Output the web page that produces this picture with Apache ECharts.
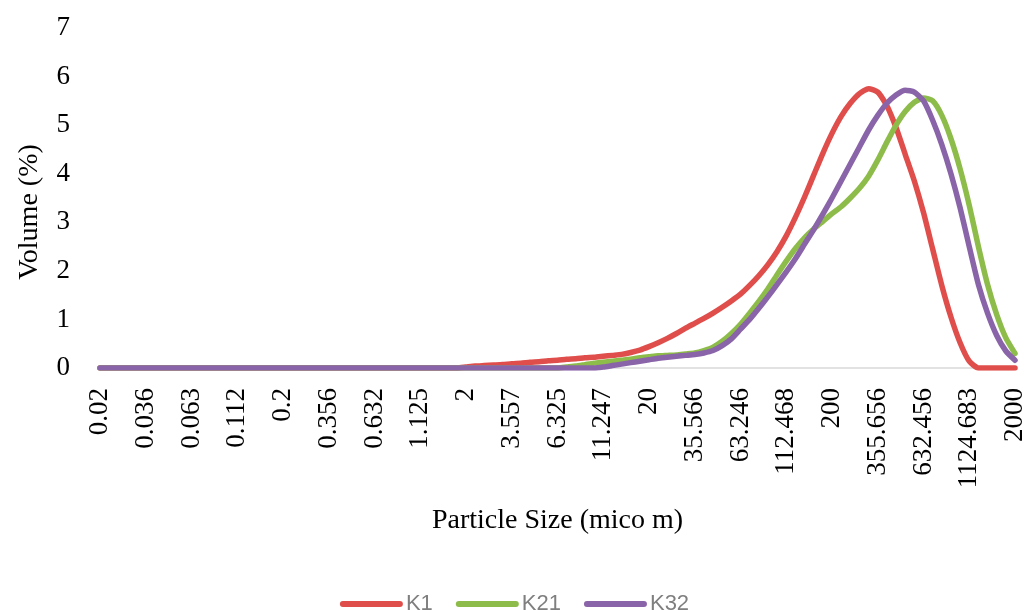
<!DOCTYPE html>
<html>
<head>
<meta charset="utf-8">
<script src="https://cdn.jsdelivr.net/npm/echarts@6/dist/echarts.min.js"></script>
<style>
html,body{margin:0;padding:0;background:#fff;}
#chart{width:1029px;height:610px;}
</style>
</head>
<body>
<div id="chart"></div>
<script>
const sizes = [
  0.02, 0.022, 0.025, 0.028, 0.032, 0.036, 0.04, 0.045, 0.05, 0.056,
  0.063, 0.071, 0.08, 0.089, 0.1, 0.112, 0.126, 0.142, 0.159, 0.178,
  0.2, 0.224, 0.252, 0.283, 0.317, 0.356, 0.399, 0.448, 0.502, 0.564,
  0.632, 0.71, 0.796, 0.893, 1.002, 1.125, 1.262, 1.416, 1.589, 1.783,
  2, 2.244, 2.518, 2.825, 3.17, 3.557, 3.991, 4.477, 5.024, 5.637,
  6.325, 7.096, 7.962, 8.934, 10.024, 11.247, 12.619, 14.159, 15.887, 17.825,
  20, 22.44, 25.179, 28.251, 31.698, 35.566, 39.905, 44.774, 50.238, 56.368,
  63.246, 70.963, 79.621, 89.337, 100.237, 112.468, 126.191, 141.589, 158.866, 178.25,
  200, 224.404, 251.785, 282.508, 316.979, 355.656, 399.052, 447.744, 502.377, 563.677,
  632.456, 709.627, 796.214, 893.367, 1002.374, 1124.683, 1261.915, 1415.892, 1588.656, 1782.502,
  2000
];

const K1 = [
  0,0,0,0,0,0,0,0,0,0, 0,0,0,0,0,0,0,0,0,0,
  0,0,0,0,0,0,0,0,0,0, 0,0,0,0,0,0,0,0,0,0,
  0.02, 0.04, 0.05, 0.06, 0.07, 0.09, 0.1, 0.12, 0.13, 0.15,
  0.16, 0.18, 0.19, 0.21, 0.22, 0.24, 0.26, 0.28, 0.32, 0.37,
  0.44, 0.52, 0.61, 0.71, 0.82, 0.92, 1.02, 1.13, 1.25, 1.38,
  1.52, 1.7, 1.9, 2.13, 2.4, 2.72, 3.1, 3.52, 3.97, 4.42,
  4.83, 5.18, 5.45, 5.65, 5.75, 5.68, 5.4, 4.95, 4.4, 3.85,
  3.2, 2.45, 1.7, 1.05, 0.52, 0.14, 0, 0, 0, 0,
  0
];

const K21 = [
  0,0,0,0,0,0,0,0,0,0, 0,0,0,0,0,0,0,0,0,0,
  0,0,0,0,0,0,0,0,0,0, 0,0,0,0,0,0,0,0,0,0,
  0,0,0,0,0,0,0,0,0,0, 0,
  0.02, 0.04, 0.07, 0.1, 0.12, 0.14, 0.16, 0.18, 0.21,
  0.23, 0.25, 0.26, 0.27, 0.29, 0.31, 0.36, 0.43, 0.55, 0.71,
  0.9, 1.13, 1.37, 1.63, 1.92, 2.2, 2.46, 2.68, 2.86, 3.02,
  3.18, 3.32, 3.5, 3.7, 3.95, 4.28, 4.65, 5.0, 5.28, 5.47,
  5.56, 5.5, 5.2, 4.72, 4.1, 3.35, 2.5, 1.72, 1.1, 0.62,
  0.3
];

const K32 = [
  0,0,0,0,0,0,0,0,0,0, 0,0,0,0,0,0,0,0,0,0,
  0,0,0,0,0,0,0,0,0,0, 0,0,0,0,0,0,0,0,0,0,
  0,0,0,0,0,0,0,0,0,0, 0,0,0,0,0,
  0.02, 0.05, 0.08, 0.11, 0.14,
  0.17, 0.2, 0.22, 0.24, 0.26, 0.28, 0.31, 0.36, 0.46, 0.6,
  0.8, 1.0, 1.23, 1.47, 1.72, 1.98, 2.25, 2.55, 2.85, 3.17,
  3.5, 3.85, 4.2, 4.55, 4.9, 5.2, 5.45, 5.62, 5.72, 5.68,
  5.5, 5.1, 4.6, 4.0, 3.3, 2.5, 1.72, 1.13, 0.67, 0.35,
  0.16
];

const seriesNames = ['K1', 'K21', 'K32'];
const colors = ['#DF4E4B', '#8DBC4A', '#8A64A8'];
const seriesData = [K1, K21, K32];

const serif = '"Liberation Serif", "DejaVu Serif", serif';
const chart = echarts.init(document.getElementById('chart'));
const legendIcon = 'path://M3,0 L60,0 A3,3 0 0 1 60,6 L3,6 A3,3 0 0 1 3,0 Z';

chart.setOption({
  animation: false,
  backgroundColor: '#ffffff',
  grid: { left: 100, right: 14, top: 28, bottom: 242, containLabel: false },
  legend: {
    data: seriesNames.map((n, i) => ({ name: n, icon: legendIcon, itemStyle: { color: colors[i] } })),
    left: 'center',
    top: 588,
    itemWidth: 63,
    itemHeight: 6,
    itemGap: 23,
    textStyle: { fontFamily: '"Liberation Sans", Arial, sans-serif', fontSize: 22, color: '#7f7f7f', padding: [0, 0, 0, -2] }
  },
  xAxis: {
    type: 'category',
    data: sizes.map(String),
    boundaryGap: false,
    name: 'Particle Size (mico m)',
    nameLocation: 'middle',
    nameGap: 139,
    nameTextStyle: { fontFamily: serif, fontSize: 28, color: '#000' },
    axisLine: { show: true, lineStyle: { color: '#d9d9d9', width: 1.5 } },
    axisTick: { show: false },
    axisLabel: {
      interval: 4,
      rotate: 90,
      margin: 20,
      fontFamily: serif,
      fontSize: 27,
      color: '#000'
    },
    splitLine: { show: false }
  },
  yAxis: {
    type: 'value',
    min: 0,
    max: 7,
    interval: 1,
    name: 'Volume (%)',
    nameLocation: 'middle',
    nameGap: 56,
    nameTextStyle: { fontFamily: serif, fontSize: 28, color: '#000', padding: [0, 28, 0, 0] },
    axisLine: { show: false },
    axisTick: { show: false },
    splitLine: { show: false },
    axisLabel: { margin: 30, fontFamily: serif, fontSize: 27, color: '#000' }
  },
  series: seriesNames.map((n, i) => ({
    name: n,
    type: 'line',
    data: seriesData[i],
    smooth: 0.2,
    showSymbol: false,
    symbol: 'none',
    lineStyle: { color: colors[i], width: 5.5, cap: 'round', join: 'round' },
    itemStyle: { color: colors[i] }
  }))
});
</script>
</body>
</html>
